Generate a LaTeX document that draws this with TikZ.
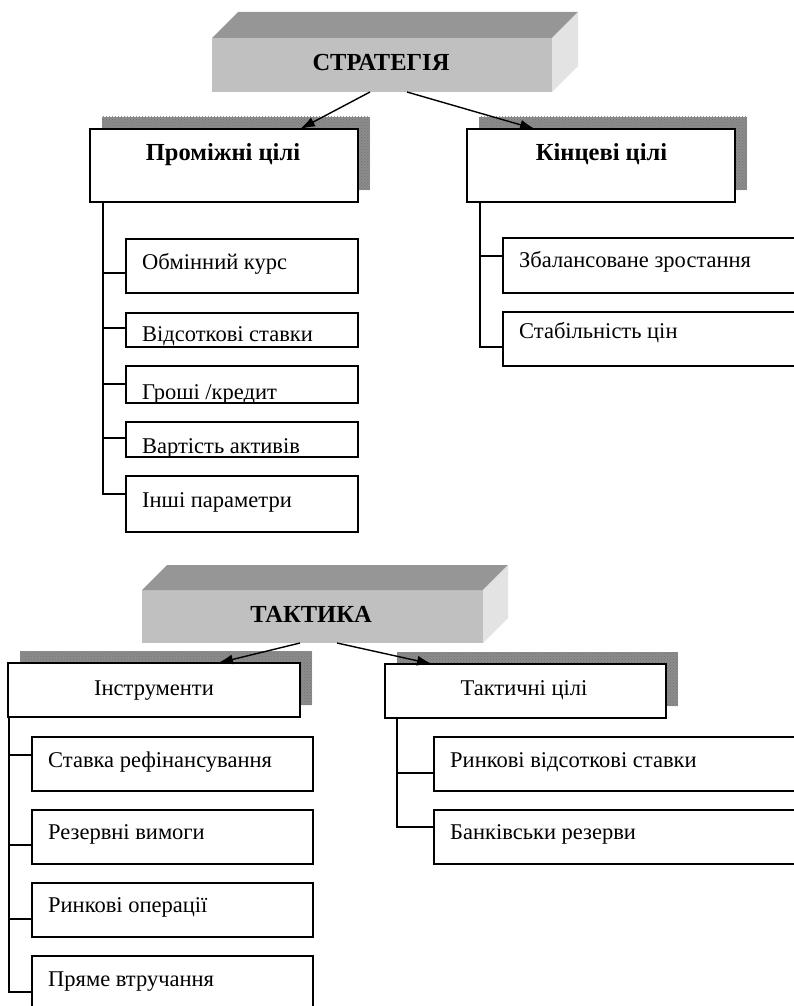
\documentclass[tikz,border=0pt]{standalone}
\usepackage{fontspec}
\setmainfont{Liberation Serif}
\usetikzlibrary{calc,arrows.meta,patterns}
\definecolor{topface}{RGB}{150,150,150}
\definecolor{frontface}{RGB}{192,192,192}
\definecolor{sideface}{RGB}{227,227,227}
\definecolor{shadowgray}{RGB}{140,140,140}
\begin{document}
\begin{tikzpicture}[x=1pt,y=-1pt,
  box/.style={draw, line width=1.3pt, fill=white, rectangle, inner sep=0pt, outer sep=0pt},
  shadowbox/.style={rectangle, inner sep=0pt, outer sep=0pt, fill=shadowgray, postaction={pattern=crosshatch dots, pattern color=black!55}},
  front3d/.style={rectangle, inner sep=0pt, outer sep=0pt, fill=frontface},
  txt/.style={inner sep=0pt, anchor=base west, font=\fontsize{22.5}{27}\selectfont},
  ctxt/.style={inner sep=0pt, anchor=base, font=\fontsize{22.5}{27}\selectfont},
  ttl/.style={inner sep=0pt, anchor=base, font=\fontsize{24.5}{29}\selectfont\bfseries},
  arr/.style={-{Latex[length=15pt,width=10pt]}, line width=1.4pt},
  tree/.style={line width=1.3pt}]
\useasboundingbox (0,0) rectangle (793,1006);

% ---------- STRATEGY 3D block ----------
\node[front3d, minimum width=340pt, minimum height=54pt] (strat) at (382,65) {};
\fill[topface] (strat.north west) -- ($(strat.north west)+(26,-26)$) -- ($(strat.north east)+(26,-26)$) -- (strat.north east) -- cycle;
\fill[sideface] (strat.north east) -- ($(strat.north east)+(26,-26)$) -- ($(strat.south east)+(26,-26)$) -- (strat.south east) -- cycle;
\node[ttl] (strattxt) at (381,71) {СТРАТЕГІЯ};

% ---------- Intermediate / final goals ----------
\node[shadowbox, minimum width=268pt, minimum height=73pt] (pcsh) at (236,153.5) {};
\node[box, minimum width=268pt, minimum height=73pt] (pc) at (224,165.5) {};
\node[ttl] (pctxt) at (223,160) {Проміжні цілі};

\node[shadowbox, minimum width=268pt, minimum height=73pt] (kcsh) at (613,153.5) {};
\node[box, minimum width=268pt, minimum height=73pt] (kc) at (601,165.5) {};
\node[ttl] (kctxt) at (601.5,160) {Кінцеві цілі};

\draw[arr] ($(strat.south)+(-12,0)$) -- ($(pc.north)+(76,0)$);
\draw[arr] ($(strat.south)+(25,0)$) -- ($(kc.north)+(-66,0)$);

% left children
\node[box, minimum width=232pt, minimum height=54pt] (a1) at (242,266) {};
\node[box, minimum width=232pt, minimum height=34pt] (a2) at (242,330) {};
\node[box, minimum width=232pt, minimum height=37pt] (a3) at (242,384.5) {};
\node[box, minimum width=232pt, minimum height=35pt] (a4) at (242,439.5) {};
\node[box, minimum width=232pt, minimum height=56pt] (a5) at (242,504) {};
\node[txt] (a1t) at (142,269) {Обмінний курс};
\node[txt] (a2t) at (142,341) {Відсоткові ставки};
\begin{scope}
  \clip (a3.south west) rectangle (a3.north east);
  \node[txt] (a3t) at (142,399) {Гроші /кредит};
\end{scope}
\begin{scope}
  \clip (a4.south west) rectangle (a4.north east);
  \node[txt] (a4t) at (142,453) {Вартість активів};
\end{scope}
\draw[line width=1.3pt] (a3.south west) rectangle (a3.north east);
\draw[line width=1.3pt] (a4.south west) rectangle (a4.north east);
\node[txt] (a5t) at (142,507) {Інші параметри};

\coordinate (pctrunk) at ($(pc.south west)+(13,0)$);
\draw[tree] (pctrunk) |- ($(a1.west)+(0,7)$);
\draw[tree] (pctrunk) |- ($(a2.west)+(0,-2)$);
\draw[tree] (pctrunk) |- ($(a3.west)+(0,-0.5)$);
\draw[tree] (pctrunk) |- ($(a4.west)+(0,-1.5)$);
\draw[tree] (pctrunk) |- ($(a5.west)+(0,-10)$);

% right children
\node[box, minimum width=297pt, minimum height=55pt] (b1) at (651.5,265.5) {};
\node[box, minimum width=297pt, minimum height=54pt] (b2) at (651.5,339) {};
\node[txt] (b1t) at (519,267) {Збалансоване зростання};
\node[txt] (b2t) at (519,338) {Стабільність цін};
\coordinate (kctrunk) at ($(kc.south west)+(13,0)$);
\draw[tree] (kctrunk) |- ($(b1.west)+(0,-9.5)$);
\draw[tree] (kctrunk) |- ($(b2.west)+(0,8)$);

% ---------- TACTICS 3D block ----------
\node[front3d, minimum width=341pt, minimum height=53pt] (tact) at (312.5,616.5) {};
\fill[topface] (tact.north west) -- ($(tact.north west)+(25,-25)$) -- ($(tact.north east)+(25,-25)$) -- (tact.north east) -- cycle;
\fill[sideface] (tact.north east) -- ($(tact.north east)+(25,-25)$) -- ($(tact.south east)+(25,-25)$) -- (tact.south east) -- cycle;
\node[ttl] (tacttxt) at (311,622.5) {ТАКТИКА};

% instruments / tactical goals
\node[shadowbox, minimum width=292pt, minimum height=54pt] (inssh) at (166,678) {};
\node[box, minimum width=292pt, minimum height=54pt] (ins) at (154,690) {};
\node[ctxt] (instxt) at (154,695) {Інструменти};

\node[shadowbox, minimum width=281pt, minimum height=54pt] (tgsh) at (537.5,679) {};
\node[box, minimum width=281pt, minimum height=54pt] (tg) at (525.5,691) {};
\node[ctxt] (tgtxt) at (524,695) {Тактичні цілі};

\draw[arr] ($(tact.south)+(-12.5,0)$) -- ($(ins.north)+(64,0)$);
\draw[arr] ($(tact.south)+(24.5,0)$) -- ($(tg.north)+(-93.5,0)$);

% instrument children
\node[box, minimum width=281pt, minimum height=54pt] (c1) at (172.5,764) {};
\node[box, minimum width=281pt, minimum height=54pt] (c2) at (172.5,837) {};
\node[box, minimum width=281pt, minimum height=54pt] (c3) at (172.5,910) {};
\node[box, minimum width=281pt, minimum height=60pt] (c4) at (172.5,986) {};
\node[txt] (c1t) at (48,767) {Ставка рефінансування};
\node[txt] (c2t) at (48,839) {Резервні вимоги};
\node[txt] (c3t) at (48,912) {Ринкові операції};
\node[txt] (c4t) at (48,986) {Пряме втручання};
\coordinate (instrunk) at ($(ins.south west)+(1,0)$);
\draw[tree] (instrunk) |- ($(c1.west)+(0,-9)$);
\draw[tree] (instrunk) |- ($(c2.west)+(0,8)$);
\draw[tree] (instrunk) |- ($(c3.west)+(0,9)$);
\draw[tree] (instrunk) |- ($(c4.west)+(0,6)$);

% tactical goal children
\node[box, minimum width=366pt, minimum height=54pt] (d1) at (617,764) {};
\node[box, minimum width=366pt, minimum height=54pt] (d2) at (617,837) {};
\node[txt] (d1t) at (450,767) {Ринкові відсоткові ставки};
\node[txt] (d2t) at (450,839) {Банківськи резерви};
\coordinate (tgtrunk) at ($(tg.south west)+(12,0)$);
\draw[tree] (tgtrunk) |- ($(d1.west)+(0,9)$);
\draw[tree] (tgtrunk) |- ($(d2.west)+(0,-10)$);
\end{tikzpicture}
\end{document}
